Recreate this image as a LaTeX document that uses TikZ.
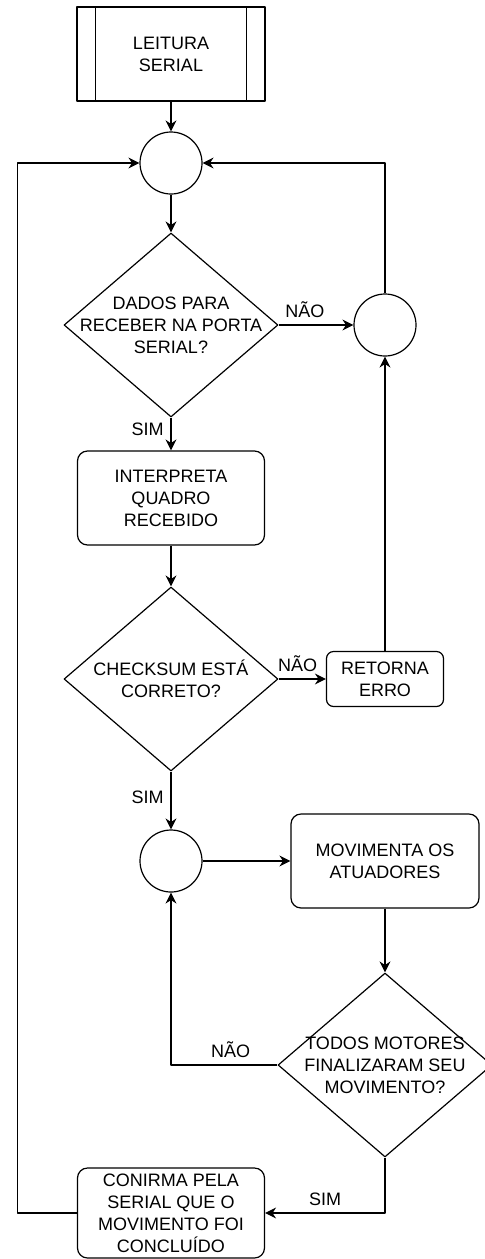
\documentclass[tikz,border=0pt]{standalone}
\usepackage{fontspec}
\setmainfont{Liberation Sans}
\usetikzlibrary{shapes.geometric,arrows.meta}
\begin{document}
\begin{tikzpicture}[x=0.5pt, y=-0.5pt, font=\fontsize{9}{11}\selectfont, line join=round, line width=0.6pt,
	>={Stealth[length=5.5pt,width=5.5pt,inset=1.8pt]},
	caixa/.style={draw, rounded corners=5pt, align=center, inner sep=0pt},
	circulo/.style={draw, circle, minimum size=31pt, inner sep=0pt},
	decisao/.style={draw, diamond, minimum width=107pt, minimum height=92pt, inner sep=0pt},
	rotulo/.style={align=center}]
	\useasboundingbox (0,0) rectangle (484,1259);
	% blocos
	\node[draw, align=center, minimum width=94pt, minimum height=47pt] (leitura) at (171,54) {LEITURA\\SERIAL};
	\draw ([xshift=9.5pt]leitura.north west)--([xshift=9.5pt]leitura.south west)
	([xshift=-9.5pt]leitura.north east)--([xshift=-9.5pt]leitura.south east);
	\node[circulo] (c1) at (171,163) {};
	\node[decisao, label={[rotulo]center:DADOS PARA\\RECEBER NA PORTA\\SERIAL?}] (d1) at (171,325) {};
	\node[circulo] (c2) at (385,325) {};
	\node[caixa, minimum width=93.5pt, minimum height=47pt] (interpreta) at (171,498) {INTERPRETA\\QUADRO\\RECEBIDO};
	\node[decisao, label={[rotulo]center:CHECKSUM ESTÁ\\CORRETO?}] (d2) at (171,679) {};
	\node[caixa, rounded corners=3.5pt, minimum width=58.5pt, minimum height=27.5pt] (retorna) at (385,679) {RETORNA\\ERRO};
	\node[circulo] (c3) at (171,861) {};
	\node[caixa, minimum width=94pt, minimum height=47pt] (movimenta) at (385,861) {MOVIMENTA OS\\ATUADORES};
	\node[decisao, label={[rotulo]center:TODOS MOTORES\\FINALIZARAM SEU\\MOVIMENTO?}] (d3) at (385,1065) {};
	\node[caixa, minimum width=93.5pt, minimum height=45pt] (confirma) at (171,1213) {CONIRMA PELA\\SERIAL QUE O\\MOVIMENTO FOI\\CONCLUÍDO};
	\coordinate (retorno) at (17.5,163);
	% ligacoes
	\draw[->] (leitura)--(c1);
	\draw[->] (c1)--(d1);
	\draw[->] (d1.east)--(c2.west) node[pos=0.35,above]{NÃO};
	\draw[->] (d1.south)--(interpreta.north) node[pos=0.35,left]{SIM};
	\draw[->] (interpreta)--(d2);
	\draw[->] (d2.east)--(retorna.west) node[pos=0.4,above]{NÃO};
	\draw[->] (retorna.north)--(c2.south);
	\draw[->] (c2.north)|-(c1.east);
	\draw[->] (d2.south)--(c3.north) node[pos=0.45,left]{SIM};
	\draw[->] (c3.east)--(movimenta.west);
	\draw[->] (movimenta.south)--(d3.north);
	\draw[->] (d3.west)-|(c3.south) node[pos=0.22,above]{NÃO};
	\draw[->] (d3.south)|-(confirma.east) node[pos=0.75,above]{SIM};
	\draw[->] (confirma.west)-|(retorno)--(c1.west);
\end{tikzpicture}
\end{document}
